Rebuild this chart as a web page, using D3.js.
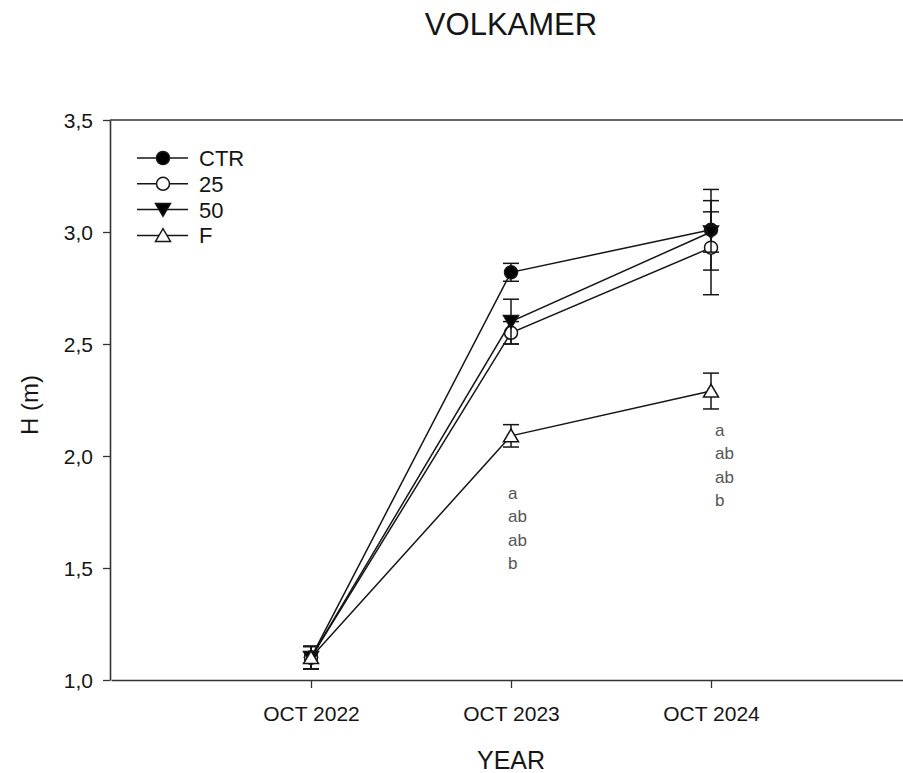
<!DOCTYPE html>
<html>
<head>
<meta charset="utf-8">
<script src="https://cdn.jsdelivr.net/npm/d3@7"></script>
<style>
  html, body { margin: 0; padding: 0; background: #fff; }
  svg { display: block; font-family: "Liberation Sans", Arial, sans-serif; }
</style>
</head>
<body>
<svg id="chart" width="903" height="773"></svg>
<script>
// Sampling dates (x) and tick labels
const years = [2022, 2023, 2024];
const yearLabels = ["OCT 2022", "OCT 2023", "OCT 2024"];
const yTicks = [1.0, 1.5, 2.0, 2.5, 3.0, 3.5];

// Plant height H (m), mean and error per treatment
const seriesNames = ["CTR", "25", "50", "F"];
const ctrMean = [1.10, 2.82, 3.01];
const ctrErr  = [0.05, 0.04, 0.18];
const t25Mean = [1.10, 2.55, 2.93];
const t25Err  = [0.05, 0.05, 0.21];
const t50Mean = [1.10, 2.60, 3.00];
const t50Err  = [0.05, 0.10, 0.09];
const fMean   = [1.10, 2.09, 2.29];
const fErr    = [0.05, 0.05, 0.08];

// Significance letters per date (order CTR, 25, 50, F)
const letters2023 = ["a", "ab", "ab", "b"];
const letters2024 = ["a", "ab", "ab", "b"];

const series = [
  { name: seriesNames[0], mean: ctrMean, err: ctrErr, shape: "circle", fill: "#000" },
  { name: seriesNames[1], mean: t25Mean, err: t25Err, shape: "circle", fill: "#fff" },
  { name: seriesNames[2], mean: t50Mean, err: t50Err, shape: "down", fill: "#000" },
  { name: seriesNames[3], mean: fMean,   err: fErr,   shape: "up",   fill: "#fff" }
];

const svg = d3.select("#chart");
const ink = "#151515";
const font = "Liberation Sans, Arial, sans-serif";

const x = d3.scaleLinear().domain([2021, 2025]).range([111, 911]);
const y = d3.scaleLinear().domain([1.0, 3.5]).range([680, 120]);

// Title and axis titles
svg.append("text").attr("x", 511).attr("y", 35).attr("text-anchor", "middle")
  .attr("font-size", 31).attr("fill", ink).text("VOLKAMER");
svg.append("text").attr("x", 511).attr("y", 769).attr("text-anchor", "middle")
  .attr("font-size", 25).attr("fill", ink).text("YEAR");
svg.append("text").attr("transform", "translate(38,405) rotate(-90)")
  .attr("text-anchor", "middle").attr("font-size", 24).attr("fill", ink).text("H (m)");

// Frame: top edge, left and bottom axes
svg.append("line").attr("x1", 110).attr("x2", 903).attr("y1", 120).attr("y2", 120)
  .attr("stroke", "#333").attr("stroke-width", 1.6);

const yAxis = d3.axisLeft(y).tickValues(yTicks).tickSize(7).tickSizeOuter(0)
  .tickFormat(d => d3.format(".1f")(d).replace(".", ","));
const gy = svg.append("g").attr("transform", "translate(110,0)").call(yAxis);
gy.select(".domain").attr("stroke", "#333").attr("stroke-width", 1.6);
gy.selectAll(".tick line").attr("stroke", "#333").attr("stroke-width", 1.3);
gy.selectAll(".tick text").attr("font-size", 21).attr("fill", ink)
  .attr("font-family", font).attr("x", -17).attr("dy", "0.36em");

const xAxis = d3.axisBottom(x).tickValues(years).tickSize(8).tickSizeOuter(0)
  .tickFormat((d, i) => yearLabels[i]);
const gx = svg.append("g").attr("transform", "translate(0,680)").call(xAxis);
gx.select(".domain").attr("stroke", "#333").attr("stroke-width", 1.6);
gx.selectAll(".tick line").attr("stroke", "#333").attr("stroke-width", 1.3);
gx.selectAll(".tick text").attr("font-size", 21).attr("fill", ink)
  .attr("font-family", font).attr("y", 41).attr("dy", null);

// Marker drawing helper
function marker(g, shape, fill, cx, cy) {
  if (shape === "circle") {
    g.append("circle").attr("cx", cx).attr("cy", cy).attr("r", 6.5)
      .attr("fill", fill).attr("stroke", ink).attr("stroke-width", 1.5);
  } else {
    const s = 7.5;
    const pts = shape === "down"
      ? [[cx - s, cy - s * 0.8], [cx + s, cy - s * 0.8], [cx, cy + s * 0.9]]
      : [[cx - s, cy + s * 0.8], [cx + s, cy + s * 0.8], [cx, cy - s * 0.9]];
    g.append("path").attr("d", d3.line()(pts) + "Z")
      .attr("fill", fill).attr("stroke", ink).attr("stroke-width", 1.5);
  }
}

// Each treatment: connecting line, error bars, then markers
series.forEach(s => {
  const g = svg.append("g");
  g.append("path")
    .datum(years.map((yr, i) => [x(yr), y(s.mean[i])]))
    .attr("d", d3.line())
    .attr("fill", "none").attr("stroke", ink).attr("stroke-width", 1.5);
  years.forEach((yr, i) => {
    const cx = x(yr), top = y(s.mean[i] + s.err[i]), bot = y(s.mean[i] - s.err[i]);
    g.append("line").attr("x1", cx).attr("x2", cx).attr("y1", top).attr("y2", bot)
      .attr("stroke", ink).attr("stroke-width", 1.5);
    [top, bot].forEach(yy => g.append("line")
      .attr("x1", cx - 8).attr("x2", cx + 8).attr("y1", yy).attr("y2", yy)
      .attr("stroke", ink).attr("stroke-width", 1.5));
  });
  years.forEach((yr, i) => marker(g, s.shape, s.fill, x(yr), y(s.mean[i])));
});

// Significance letters
function letterColumn(list, lx, ly) {
  list.forEach((t, i) => svg.append("text").attr("x", lx).attr("y", ly + i * 23.4)
    .attr("font-size", 17).attr("fill", "#555").text(t));
}
letterColumn(letters2023, x(2023) - 3, 499);
letterColumn(letters2024, x(2024) + 4, 436);

// Legend
const legend = svg.append("g");
series.forEach((s, i) => {
  const ly = 158 + i * 25.8;
  legend.append("line").attr("x1", 137).attr("x2", 188).attr("y1", ly).attr("y2", ly)
    .attr("stroke", ink).attr("stroke-width", 1.5);
  marker(legend, s.shape, s.fill, 163, ly);
  legend.append("text").attr("x", 199).attr("y", ly + 8).attr("font-size", 22)
    .attr("fill", ink).text(s.name);
});
</script>
</body>
</html>
